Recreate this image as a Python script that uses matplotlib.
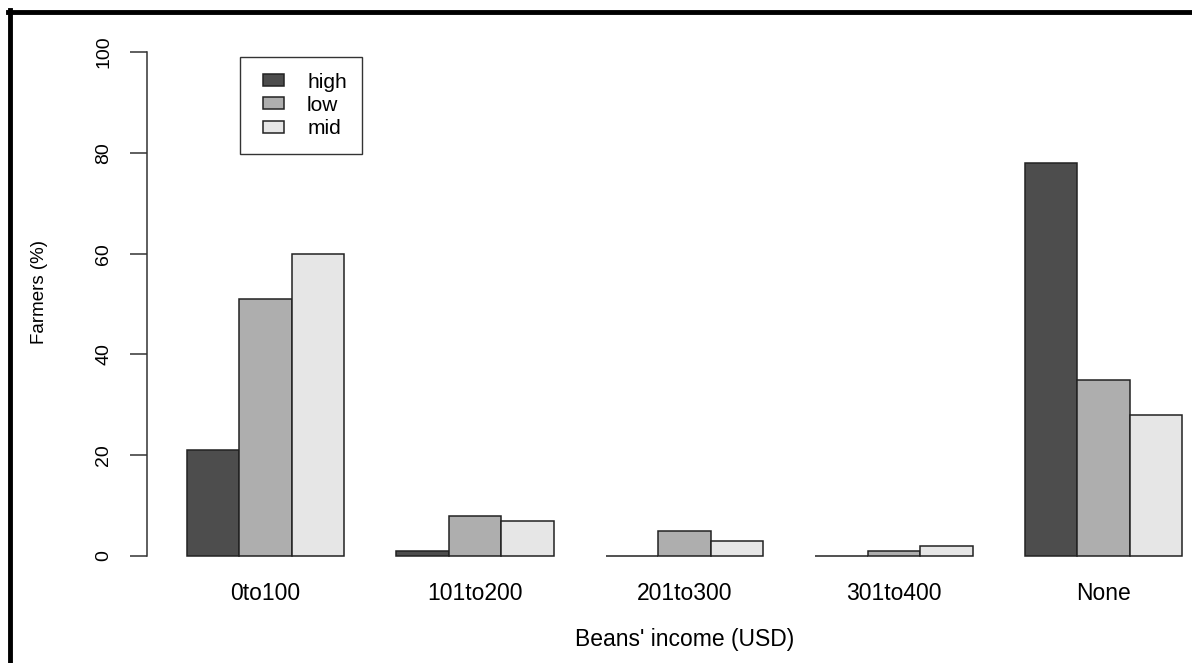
import numpy as np
import matplotlib
matplotlib.use("Agg")
import matplotlib.pyplot as plt
from matplotlib.lines import Line2D
from matplotlib.patches import Rectangle
from matplotlib.container import BarContainer
from matplotlib.legend_handler import HandlerPatch, update_from_first_child

plt.rcParams['font.family'] = ['Liberation Sans', 'DejaVu Sans']

# data
categories = ['0to100', '101to200', '201to300', '301to400', 'None']
groups = ['high', 'low', 'mid']
high = [21, 1, 0, 0, 78]
low = [51, 8, 5, 1, 35]
mid = [60, 7, 3, 2, 28]
colors = ['#4D4D4D', '#AEAEAE', '#E6E6E6']

W, H = 1192, 663
fig = plt.figure(figsize=(W / 100, H / 100), dpi=100)

# plot region in pixels (R barplot style, xlim extended 4%)
x_left, x_right = 147.2, 1221.8
y_top, y_bot = 32, 576
ax = fig.add_axes([x_left / W, 1 - y_bot / H, (x_right - x_left) / W, (y_bot - y_top) / H])

n = len(categories)
starts = 1 + 4 * np.arange(n)  # space=c(0,1) like R
for j, (vals, name) in enumerate(zip([high, low, mid], groups)):
    ax.bar(starts + j, vals, width=1, align='edge', color=colors[j],
           edgecolor='#222222', linewidth=1.1, label=name)

ax.set_xlim(0.24, 20.76)
ax.set_ylim(-4, 104)

for s in ['top', 'right', 'bottom']:
    ax.spines[s].set_visible(False)
ax.spines['left'].set_bounds(0, 100)
ax.spines['left'].set_linewidth(1.1)
ax.spines['left'].set_color('#333333')

ax.set_yticks([0, 20, 40, 60, 80, 100])
ax.tick_params(axis='y', length=12, width=1.1, color='#333333', labelsize=14, pad=13)
plt.setp(ax.get_yticklabels(), rotation=90, va='center')

ax.set_xticks(starts + 1.5)
ax.set_xticklabels(categories)
ax.tick_params(axis='x', length=0, labelsize=16.5, pad=4)

ax.set_xlabel("Beans' income (USD)", fontsize=16.5, labelpad=17)
ax.set_ylabel('Farmers (%)', fontsize=13.5)
ax.yaxis.set_label_coords(-0.092, 0.522)


# small swatch at the right end of the handle box (R legend fill boxes)
def swatch(legend, orig_handle, xdescent, ydescent, width, height, fontsize):
    w, h = 15.0, 8.6
    return Rectangle((width - xdescent - w, -ydescent + (height - h) / 2), w, h)


leg = ax.legend(loc='upper left', bbox_to_anchor=(240 / W, 1 - 57 / H),
                bbox_transform=fig.transFigure, fancybox=False, frameon=True,
                edgecolor='black', fontsize=15, handlelength=1.37, handleheight=0.6,
                handletextpad=1.1, labelspacing=0.2, borderpad=0.75, borderaxespad=0,
                handler_map={BarContainer: HandlerPatch(patch_func=swatch,
                                                        update_func=update_from_first_child)})
leg.get_frame().set_linewidth(1.0)

# outer border (left and top edges visible in the cropped original)
fig.add_artist(Line2D([10 / W, 10 / W], [0, 1 - 10 / H], transform=fig.transFigure,
                      color='black', linewidth=3.5))
fig.add_artist(Line2D([8 / W, 1], [1 - 11.5 / H, 1 - 11.5 / H], transform=fig.transFigure,
                      color='black', linewidth=3.5))

fig.savefig('out.png', dpi=100)
